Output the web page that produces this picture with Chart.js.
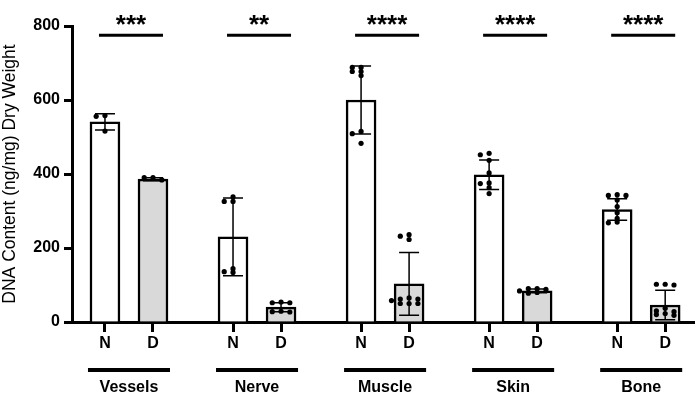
<!DOCTYPE html>
<html>
<head>
<meta charset="utf-8">
<script src="https://cdn.jsdelivr.net/npm/chart.js@4.4.1/dist/chart.umd.min.js"></script>
<style>
    html, body { margin: 0; padding: 0; background: #fff; }
    #wrap { width: 698px; height: 404px; }
</style>
</head>
<body>
<div id="wrap"><canvas id="myChart"></canvas></div>
<script>
const tissues = ['Vessels', 'Nerve', 'Muscle', 'Skin', 'Bone'];
const conditions = ['N', 'D'];
const stars = ['***', '**', '****', '****', '****'];
const yTicks = [0, 200, 400, 600, 800];

const meanN = [541, 230, 600, 398, 304];
const meanD = [386, 40, 103, 84, 46];
const sdN = [22, 105, 92, 40, 29];
const sdD = [4, 12, 85, 5, 40];

const pointsN = [
    [558, 556, 516],
    [338, 326, 326, 144, 136, 134],
    [688, 688, 677, 677, 666, 515, 509, 483],
    [456, 452, 437, 403, 376, 374, 363, 347],
    [344, 342, 342, 330, 312, 295, 280, 270, 268]
];
const pointsD = [
    [390, 390, 384],
    [54, 52, 52, 29, 28, 27],
    [236, 232, 223, 65, 62, 62, 58, 50, 50, 50],
    [90, 90, 88, 84, 80, 78],
    [102, 102, 100, 37, 30, 28, 23, 20, 18]
];

// bar slots on a linear x scale: 3 units between N and D, 8 between tissues
const GROUP_STEP = 8;
const PAIR_STEP = 3;
const slot = (t, c) => t * GROUP_STEP + c * PAIR_STEP;

const barData = [];
const barColors = [];
const barSd = [];
tissues.forEach((t, i) => {
    barData.push({ x: slot(i, 0), y: meanN[i] });
    barColors.push('#ffffff');
    barSd.push(sdN[i]);
    barData.push({ x: slot(i, 1), y: meanD[i] });
    barColors.push('#d9d9d9');
    barSd.push(sdD[i]);
});

// simple swarm: push a dot sideways when it would overlap one already placed
function swarm(values, center) {
    const placed = [];
    const offsets = [0, -1, 1, -2, 2];
    return values.map(v => {
        let off = offsets.find(o => !placed.some(p => p.o === o && Math.abs(p.v - v) < 10));
        if (off === undefined) off = 0;
        placed.push({ o: off, v: v });
        return { x: center + off * 0.55, y: v };
    });
}

const dots = [];
tissues.forEach((t, i) => {
    dots.push(...swarm(pointsN[i], slot(i, 0)));
    dots.push(...swarm(pointsD[i], slot(i, 1)));
});

const tickPositions = [];
tissues.forEach((t, i) => { tickPositions.push(slot(i, 0), slot(i, 1)); });

const errorBars = {
    id: 'errorBars',
    afterDatasetDraw(chart, args) {
        if (args.index !== 0) return;
        const { ctx, scales: { x, y } } = chart;
        ctx.save();
        ctx.strokeStyle = '#000';
        ctx.lineWidth = 1.5;
        barData.forEach((d, i) => {
            const px = x.getPixelForValue(d.x);
            const top = y.getPixelForValue(d.y + barSd[i]);
            const bot = y.getPixelForValue(Math.max(0, d.y - barSd[i]));
            ctx.beginPath();
            ctx.moveTo(px, top); ctx.lineTo(px, bot);
            ctx.moveTo(px - 10, top); ctx.lineTo(px + 10, top);
            ctx.moveTo(px - 10, bot); ctx.lineTo(px + 10, bot);
            ctx.stroke();
        });
        ctx.restore();
    }
};

const annotations = {
    id: 'annotations',
    afterDraw(chart) {
        const { ctx, scales: { x, y } } = chart;
        ctx.save();
        ctx.fillStyle = '#000';
        ctx.strokeStyle = '#000';
        tissues.forEach((t, i) => {
            const nx = x.getPixelForValue(slot(i, 0));
            const dx = x.getPixelForValue(slot(i, 1));

            // significance line + stars
            const sy = y.getPixelForValue(775);
            const l1 = nx - 6, l2 = dx + 10;
            ctx.lineWidth = 3;
            ctx.beginPath();
            ctx.moveTo(l1, sy); ctx.lineTo(l2, sy);
            ctx.stroke();
            ctx.font = 'bold 26px "Liberation Sans", Arial, sans-serif';
            ctx.textAlign = 'center';
            ctx.textBaseline = 'alphabetic';
            ctx.fillText(stars[i], (l1 + l2) / 2, sy - 2);

            // group underline + label
            const g1 = nx - 17, g2 = dx + 17;
            const gy = y.bottom + 48;
            ctx.lineWidth = 4;
            ctx.beginPath();
            ctx.moveTo(g1, gy); ctx.lineTo(g2, gy);
            ctx.stroke();
            ctx.font = 'bold 16px "Liberation Sans", Arial, sans-serif';
            ctx.textBaseline = 'middle';
            ctx.fillText(t, (g1 + g2) / 2, gy + 18);
        });
        ctx.restore();
    }
};

const ctx = document.getElementById('myChart').getContext('2d');
const chart = new Chart(ctx, {
    type: 'bar',
    data: {
        datasets: [{
            type: 'bar',
            data: barData,
            backgroundColor: barColors,
            borderColor: '#000',
            borderWidth: 2.5,
            barThickness: 30,
            order: 1
        }, {
            type: 'scatter',
            data: dots,
            backgroundColor: '#000',
            borderColor: '#000',
            pointRadius: 2.6,
            pointBorderWidth: 0,
            order: 0
        }]
    },
    options: {
        responsive: true,
        maintainAspectRatio: false,
        animation: false,
        layout: { padding: { top: 26, right: 0, bottom: 0, left: 0 } },
        plugins: {
            legend: { display: false },
            tooltip: { enabled: false }
        },
        scales: {
            x: {
                type: 'linear',
                offset: false,
                min: -2.06,
                max: 36.8,
                afterBuildTicks: scale => {
                    scale.ticks = tickPositions.map(v => ({ value: v }));
                },
                afterFit: scale => { scale.height = 82; },
                ticks: {
                    autoSkip: false,
                    maxRotation: 0,
                    color: '#000',
                    padding: 2,
                    font: { family: '"Liberation Sans", Arial, sans-serif', size: 16, weight: 'bold' },
                    callback: (value, index) => conditions[index % 2]
                },
                grid: { offset: false, drawOnChartArea: false, drawTicks: true, tickLength: 10, tickWidth: 3, tickColor: '#000' },
                border: { color: '#000', width: 3 }
            },
            y: {
                min: 0,
                max: 800,
                afterBuildTicks: scale => {
                    scale.ticks = yTicks.map(v => ({ value: v }));
                },
                afterFit: scale => { scale.width = 72; },
                ticks: {
                    color: '#000',
                    padding: 4,
                    font: { family: '"Liberation Sans", Arial, sans-serif', size: 16, weight: 'bold' }
                },
                grid: { drawOnChartArea: false, drawTicks: true, tickLength: 8, tickWidth: 3, tickColor: '#000' },
                border: { color: '#000', width: 3 },
                title: {
                    display: true,
                    text: 'DNA Content (ng/mg) Dry Weight',
                    color: '#000',
                    padding: { top: 0, bottom: 0 },
                    font: { family: '"Liberation Sans", Arial, sans-serif', size: 17.5 }
                }
            }
        }
    },
    plugins: [errorBars, annotations]
});
</script>
</body>
</html>
